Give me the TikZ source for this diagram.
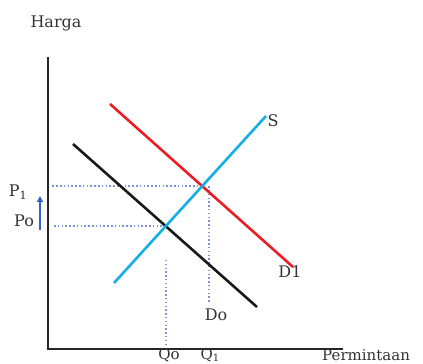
\documentclass[tikz,border=0pt]{standalone}
\usepackage{fontspec}
\setmainfont{DejaVu Serif}
\usetikzlibrary{intersections,arrows.meta}
\definecolor{redline}{RGB}{235,30,35}
\definecolor{blueline}{RGB}{20,175,230}
\definecolor{dotblue}{RGB}{125,145,220}
\definecolor{arrowblue}{RGB}{50,100,200}
\begin{document}
\begin{tikzpicture}[x=1pt,y=1pt,
  lbl/.style={font=\fontsize{16}{19}\selectfont, text=black!80, inner sep=0pt},
  qlbl/.style={font=\fontsize{15}{17}\selectfont, text=black!80, inner sep=0pt},
  axis/.style={line width=2.8pt, black!85},
  curve/.style={line width=2.6pt},
  guide/.style={dotblue, line width=1.5pt, dash pattern=on 1.5pt off 2.3pt}]
\useasboundingbox (0,0) rectangle (423,364);
% axes
\coordinate (yt) at (48,307);
\coordinate (o) at (48,15);
\coordinate (xr) at (343,15);
\draw[axis] (yt) -- (o) -- (xr);
\node[lbl] (harga) at (56,341) {Harga};
% curves
\coordinate (d0a) at (73,220);
\coordinate (d0b) at (257,57);
\coordinate (d1a) at (110,260);
\coordinate (d1b) at (293,97);
\coordinate (sa) at (114,81);
\coordinate (sb) at (266,248);
\path[name path=D0] (d0a) -- (d0b);
\path[name path=D1] (d1a) -- (d1b);
\path[name path=S] (sa) -- (sb);
\path[name intersections={of=D0 and S, by=e0}];
\path[name intersections={of=D1 and S, by=e1}];
% guides
\draw[guide] (e1) -- (52,0 |- e1);
\draw[guide] (e0) -- (52,0 |- e0);
\draw[guide] (e1 -| 209,0) -- (209,62);
\draw[guide] (166,104) -- (166,17);
\draw[curve, black!90] (d0a) -- (d0b);
\draw[curve, redline] (d1a) -- (d1b);
\draw[curve, blueline] (sa) -- (sb);
% labels
\node[lbl] (S) at (273,243) {S};
\node[lbl] (D1) at (290,92) {D1};
\node[lbl] (Do) at (216,49) {Do};
\node[qlbl, anchor=base] (Qo) at (169,4) {Qo};
\node[qlbl, anchor=base] (Q1) at (210,4) {Q\raisebox{-1.8pt}{\fontsize{10}{10}\selectfont 1}};
\node[qlbl, anchor=base west] (perm) at (322,3.5) {Permintaan};
\node[lbl] (P1) at (18,172) {P\textsubscript{1}};
\node[lbl] (Po) at (24,143) {Po};
\coordinate (arb) at (40,134);
\coordinate (art) at (40,168);
\draw[arrowblue, line width=1.4pt, -{Triangle[length=6pt,width=6pt]}] (arb) -- (art);
\end{tikzpicture}
\end{document}
